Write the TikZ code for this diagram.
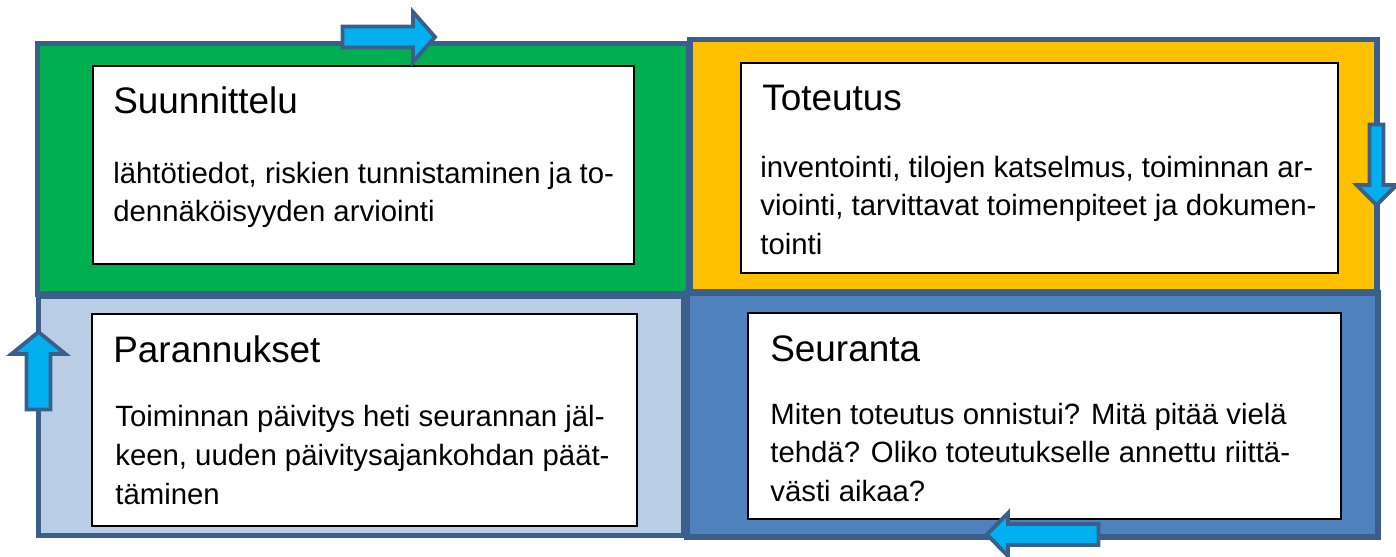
\documentclass[tikz,border=0pt]{standalone}
\usepackage{fontspec}
\setmainfont{Liberation Sans}
\usepackage{tikz}
\usetikzlibrary{fit}
\definecolor{frameblue}{HTML}{3A5F8B}
\definecolor{plangreen}{HTML}{00B050}
\definecolor{doyellow}{HTML}{FFC000}
\definecolor{actblue}{HTML}{B9CDE5}
\definecolor{checkblue}{HTML}{4F81BD}
\definecolor{arrowcyan}{HTML}{00B0F0}
\tikzstyle{quad} = [draw=frameblue, line width=3pt]
\tikzstyle{card} = [draw=black, fill=white, line width=0.6pt, inner sep=0pt]
\tikzstyle{title} = [anchor=base west, inner sep=0pt, font=\fontsize{21}{25}\selectfont]
\tikzstyle{body} = [anchor=north west, inner sep=0pt, align=left, font=\fontsize{16.7}{22.1}\selectfont]
\tikzstyle{turn} = [draw=frameblue, fill=arrowcyan, line width=2.2pt, line join=miter]

\begin{document}
\begin{tikzpicture}[x=0.02cm, y=-0.02cm]
\useasboundingbox (0,0) rectangle (1396,556);

% the four phases
\draw [quad, fill=plangreen] (37.5,43.5) rectangle (689,294);
\draw [quad, fill=doyellow] (690,39.5) rectangle (1377,292);
\draw [quad, fill=actblue] (38.5,296) rectangle (684,535.5);
\draw [quad, fill=checkblue] (687,293) rectangle (1378,537);

% white cards
\node (plancard) [card, fit={(93,66)(634,264)}] {};
\node (docard) [card, fit={(741,63)(1338,273)}] {};
\node (actcard) [card, fit={(92,314)(637,526)}] {};
\node (checkcard) [card, fit={(748,313)(1341,519)}] {};

\node (plantitle) [title] at (113,113) {Suunnittelu};
\node (plantext) [body] at (113,161.5) {lähtötiedot, riskien tunnistaminen ja to-\\dennäköisyyden arviointi};

\node (dotitle) [title] at (762,110) {Toteutus};
\node (dotext) [body] at (760,155.5) {inventointi, tilojen katselmus, toiminnan ar-\\viointi, tarvittavat toimenpiteet ja dokumen-\\tointi};

\node (acttitle) [title] at (113,362) {Parannukset};
\node (acttext) [body] at (115,405) {Toiminnan päivitys heti seurannan jäl-\\keen, uuden päivitysajankohdan päät-\\täminen};

\node (checktitle) [title] at (770,361) {Seuranta};
\node (checktext) [body] at (770,402.5) {Miten toteutus onnistui? Mitä pitää vielä\\tehdä? Oliko toteutukselle annettu riittä-\\västi aikaa?};

% cycle arrows
\draw [turn] (342.5,26.5) -- (413,26.5) -- (413,12) -- (435,37) -- (413,62) -- (413,47.5) -- (342.5,47.5) -- cycle;
\draw [turn] (1369.5,124.5) -- (1383.5,124.5) -- (1383.5,185) -- (1396.5,185) -- (1376.5,205) -- (1356.5,185) -- (1369.5,185) -- cycle;
\draw [turn] (1098.5,524) -- (1008,524) -- (1008,513) -- (987,534.5) -- (1008,556) -- (1008,545) -- (1098.5,545) -- cycle;
\draw [turn] (26.5,409.5) -- (50.5,409.5) -- (50.5,354) -- (65.5,354) -- (38.5,332) -- (11.5,354) -- (26.5,354) -- cycle;

\end{tikzpicture}
\end{document}
